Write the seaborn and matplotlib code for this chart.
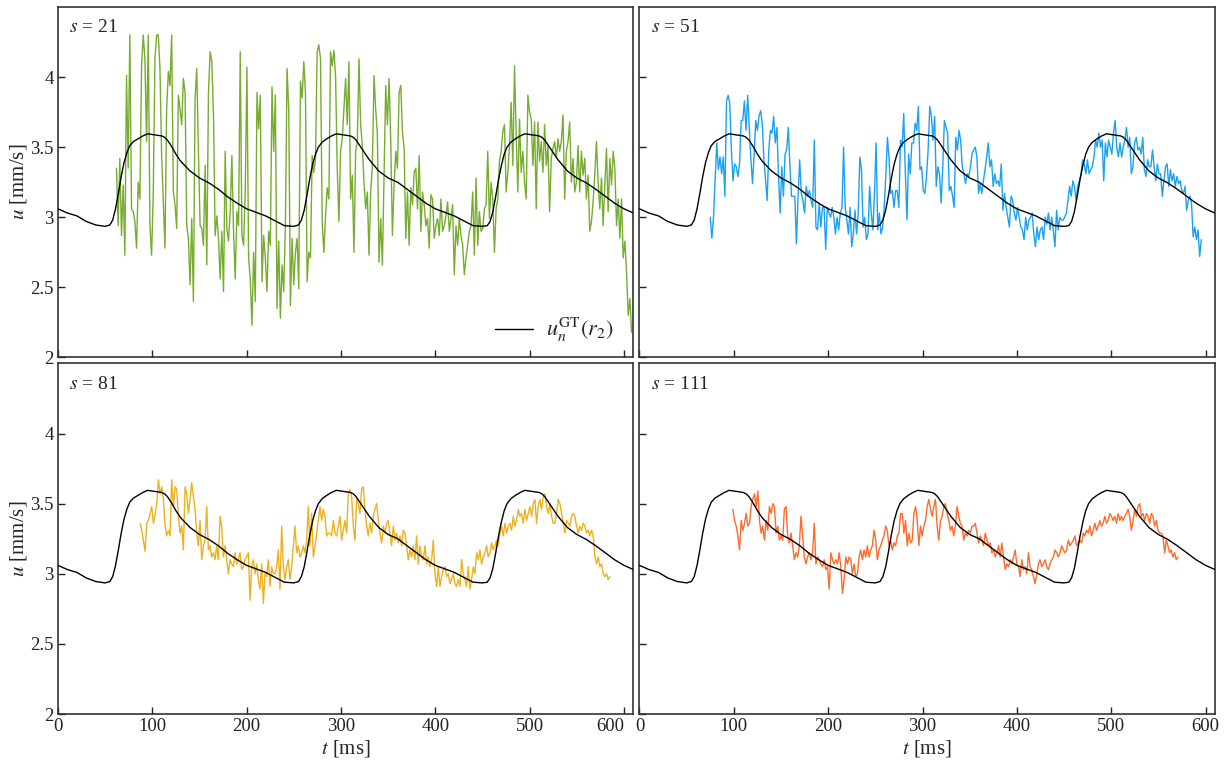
import numpy as np
import matplotlib
matplotlib.use("Agg")
import matplotlib.pyplot as plt
import seaborn as sns

# ground truth velocity u_n^GT(r_2)
gt_t = [0, 10, 20, 30, 40, 50, 55, 58, 61, 64, 67, 70, 73, 76, 80, 85, 90, 95, 100, 105, 110,
        113, 116, 120, 125, 130, 140, 150, 160, 170, 180, 190, 200, 210, 220, 230, 240, 250,
        255, 258, 261, 264, 267, 270, 273, 276, 280, 285, 290, 295, 300, 305, 310, 313, 316,
        320, 325, 330, 340, 350, 360, 370, 380, 390, 400, 410, 420, 430, 440, 450, 455, 458,
        461, 464, 467, 470, 473, 476, 480, 485, 490, 495, 500, 505, 510, 513, 516, 520, 525,
        530, 540, 550, 560, 570, 580, 590, 600, 610]
gt_u = [3.06, 3.03, 3.01, 2.97, 2.945, 2.935, 2.945, 2.98, 3.06, 3.17, 3.29, 3.39, 3.46, 3.51,
        3.54, 3.56, 3.58, 3.595, 3.59, 3.585, 3.58, 3.57, 3.55, 3.51, 3.45, 3.40, 3.33, 3.28,
        3.245, 3.20, 3.145, 3.10, 3.06, 3.035, 3.01, 2.975, 2.94, 2.935, 2.945, 2.98, 3.05,
        3.16, 3.28, 3.38, 3.45, 3.50, 3.535, 3.56, 3.58, 3.595, 3.59, 3.585, 3.58, 3.57, 3.55,
        3.51, 3.46, 3.41, 3.33, 3.28, 3.25, 3.20, 3.15, 3.10, 3.06, 3.035, 3.01, 2.975, 2.94,
        2.935, 2.94, 2.97, 3.04, 3.15, 3.27, 3.37, 3.45, 3.50, 3.535, 3.56, 3.58, 3.595, 3.59,
        3.585, 3.58, 3.57, 3.55, 3.51, 3.46, 3.41, 3.33, 3.28, 3.245, 3.20, 3.15, 3.10, 3.06,
        3.03]

# s = 21 (start / end time and samples)
u21_range = (62, 608)
u21 = [3.35, 2.94, 3.42, 2.87, 3.23, 2.73, 4.01, 3.35, 4.30, 3.06, 3.04, 2.97, 2.78, 3.25, 3.13,
       4.08, 4.30, 4.13, 3.54, 4.30, 2.94, 2.73, 3.18, 4.13, 4.30, 4.30, 4.06, 3.44, 3.11, 2.78,
       3.77, 4.04, 3.94, 4.30, 3.18, 3.09, 2.92, 3.87, 3.77, 3.66, 3.99, 3.89, 2.94, 2.85, 2.52,
       2.99, 2.40, 3.85, 4.06, 3.47, 2.94, 2.92, 2.80, 3.37, 2.66, 3.89, 4.18, 4.11, 3.73, 2.87,
       3.01, 2.85, 2.56, 2.90, 2.47, 3.47, 2.92, 2.83, 3.04, 3.44, 2.90, 2.56, 3.04, 2.94, 4.18,
       2.87,
       2.80, 3.18, 4.07, 2.71, 2.56, 2.23, 2.75, 2.40, 3.89, 3.63, 3.87, 2.54, 2.87, 2.71, 2.47,
       2.90, 2.80, 3.93, 3.47, 3.87, 2.35, 2.83, 2.28, 2.66, 2.47, 2.94, 4.06, 3.77, 2.37, 2.85,
       2.52, 2.75, 2.85, 2.49, 3.97, 3.85, 4.11, 3.89, 2.54, 2.75, 2.71, 3.44, 3.32, 3.42, 4.18,
       4.23, 4.13, 2.97, 2.75, 3.01, 3.21, 3.13, 4.18, 4.08, 4.19, 4.01, 3.35, 2.97, 3.47, 3.56,
       3.77, 3.99, 3.66, 4.11, 3.13, 3.30, 2.75, 3.47, 3.54, 4.13, 3.66, 3.51, 3.25, 3.06, 3.18,
       2.73, 3.18, 3.37,
       4.01, 3.77, 3.59, 2.68, 2.99, 2.66, 3.32, 3.94, 3.66, 3.99, 3.54, 2.87, 3.23, 3.47, 3.35,
       3.89, 3.94, 3.61, 3.49, 2.85, 3.18, 2.80, 3.21, 3.09, 3.32, 3.35, 3.06, 3.44, 2.90, 3.18,
       3.09, 2.94, 2.99, 2.78, 3.16, 3.13, 2.85, 2.94, 2.99, 2.87, 3.13, 2.90, 2.94, 3.01, 3.11,
       2.90, 2.99, 3.09, 2.59, 2.94, 2.80, 2.99, 2.87, 2.80, 2.59, 2.71, 2.80, 2.90, 2.94, 3.18,
       2.73, 3.28, 2.80, 3.04, 2.90, 2.92, 3.06, 3.09, 3.47, 2.99, 3.25, 3.13, 2.75, 3.06, 3.13,
       3.40, 3.47, 3.61,
       3.66, 3.18, 3.32, 3.51, 3.82, 3.37, 4.08, 3.59, 3.18, 3.70, 3.32, 3.47, 3.25, 3.13, 3.87,
       3.75, 3.70, 3.37, 3.68, 3.06, 3.68, 3.40, 3.54, 3.32, 3.66, 3.37, 3.51, 3.04, 3.42, 3.49,
       3.54, 3.42, 3.56, 3.47, 3.54, 3.73, 3.13, 3.47, 3.54, 3.68, 3.25, 3.42, 3.18, 3.25, 3.51,
       3.18, 3.47, 3.30, 3.42, 3.13, 3.30, 2.90, 2.97, 3.11, 3.30, 3.54, 3.25, 3.06, 3.28, 2.94,
       3.23, 3.49, 3.04, 3.42, 3.23, 3.47, 3.35, 2.94, 3.13, 2.85, 3.13, 2.71, 2.83, 2.61, 2.30,
       2.42, 2.18]

# s = 51
u51_range = (75, 595.5)
u51 = [3.00, 2.85, 3.00, 3.26, 3.53, 3.34, 3.43, 3.31, 3.43, 3.15, 3.83, 3.87, 3.81, 3.48, 3.26,
       3.38, 3.36, 3.29, 3.38, 3.69, 3.69, 3.83, 3.62, 3.87, 3.64, 3.41, 3.24, 3.45, 3.69, 3.62,
       3.72, 3.76, 3.67, 3.41, 3.26, 3.12, 3.48, 3.62, 3.60, 3.72, 3.53, 3.64, 3.29, 3.03, 3.36,
       3.15, 3.45, 3.48, 3.64, 3.36, 3.15, 3.15, 3.15, 2.81, 3.15, 3.41, 3.17, 3.12, 3.03, 3.22,
       3.15, 3.19, 3.12, 3.07, 3.55, 2.93, 2.91, 3.10, 2.93, 3.07, 3.07, 2.77, 3.07, 3.03, 3.00,
       3.07, 3.00, 2.88, 3.00, 2.91, 3.03, 3.07, 3.50, 3.07, 2.98, 2.88, 3.07, 2.79, 2.88, 3.05,
       2.88, 3.03, 3.43, 3.34, 2.93, 3.00, 2.84, 2.88, 3.22, 3.03, 2.91, 3.17, 3.53, 2.91, 3.03,
       2.88, 2.93, 3.07, 3.31, 3.57, 3.41, 3.17, 3.19, 3.07, 3.19, 3.19, 3.07, 3.55, 3.50, 3.74,
       3.31, 2.98, 3.45, 3.31, 3.53, 3.53, 3.67, 3.62, 3.79, 3.34, 3.36, 3.19, 3.17, 3.29, 3.48,
       3.79, 3.72,
       3.55, 3.72, 3.22, 3.36, 3.31, 3.10, 3.36, 3.69, 3.64, 3.60, 3.19, 3.22, 3.15, 3.07, 3.57,
       3.48, 3.62, 3.55, 3.36, 3.31, 3.24, 3.31, 3.29, 3.36, 3.45, 3.48, 3.50, 3.43, 3.17, 3.24,
       3.17, 3.26, 3.34, 3.43, 3.53, 3.36, 3.41, 3.22, 3.31, 3.24, 3.26, 3.22, 3.38, 3.05, 3.17,
       3.07, 3.00, 2.93, 3.15, 3.12, 3.03, 2.98, 3.07, 3.00, 2.93, 2.91, 2.84, 3.00, 2.91, 2.98,
       3.00, 3.03, 2.88, 2.79, 2.93, 2.84, 2.91, 2.93, 2.84, 3.00, 2.95, 3.03, 2.91, 3.00, 2.91,
       2.79, 3.05, 2.91, 3.00, 2.98, 2.98, 3.00, 3.03, 3.12, 3.22, 3.15, 3.26, 3.22, 3.12, 3.22,
       3.26, 3.31, 3.41, 3.38, 3.31, 3.41, 3.31, 3.34, 3.36, 3.43, 3.55, 3.50, 3.60, 3.50, 3.55,
       3.26, 3.53, 3.43, 3.55, 3.50, 3.45, 3.60, 3.69, 3.50, 3.43, 3.53, 3.43, 3.50, 3.55, 3.64,
       3.50, 3.57, 3.31, 3.36, 3.53, 3.57, 3.48, 3.50, 3.45, 3.57, 3.34, 3.29, 3.41, 3.36, 3.36,
       3.48, 3.36, 3.26, 3.38, 3.31, 3.31, 3.15, 3.26, 3.36, 3.38, 3.22, 3.34, 3.26, 3.31, 3.22,
       3.29, 3.24, 3.26, 3.19, 3.17, 3.22, 3.05, 3.12, 3.15, 3.10, 2.86, 2.93, 2.84, 2.91, 2.72,
       2.84]

# s = 81
u81_range = (87, 585)
u81 = [3.36, 3.31, 3.24, 3.16, 3.36, 3.38, 3.43, 3.48, 3.36, 3.42, 3.50, 3.67, 3.57, 3.62, 3.53,
       3.34, 3.27, 3.31, 3.27, 3.67, 3.48, 3.62, 3.60, 3.41, 3.29, 3.34, 3.17, 3.62, 3.57, 3.43,
       3.53, 3.65, 3.55, 3.46, 3.29, 3.20, 3.38, 3.10, 3.20, 3.24, 3.48, 3.17, 3.20, 3.12, 3.15,
       3.10, 3.20, 3.10, 3.41, 3.34, 3.12, 3.20, 3.10, 3.00, 3.10, 3.07, 3.05, 3.15, 3.07, 3.10,
       3.15, 3.03, 3.05, 3.10, 3.12, 3.15, 2.81, 3.05, 3.10, 3.00, 3.07, 2.96, 2.89, 3.07, 2.79,
       3.00, 2.98, 3.10, 2.91, 3.05, 3.00, 3.00, 3.05, 3.17, 2.89, 3.34, 3.05, 2.96, 3.05, 3.10,
       2.96, 3.05, 3.20, 3.34, 3.15, 3.20, 3.12, 3.15, 3.20, 3.15, 3.24, 3.48, 3.20, 3.43, 3.12,
       3.20, 3.29, 3.38, 3.48, 3.38, 3.46, 3.41, 3.27, 3.29, 3.29, 3.27,
       3.38, 3.29, 3.27, 3.34, 3.41, 3.24, 3.31, 3.38, 3.29, 3.57, 3.60, 3.55, 3.34, 3.24, 3.53,
       3.50, 3.43, 3.61, 3.62, 3.46, 3.34, 3.27, 3.36, 3.29, 3.41, 3.46, 3.50, 3.38, 3.29, 3.22,
       3.34, 3.29, 3.36, 3.38, 3.29, 3.20, 3.34, 3.24, 3.29, 3.22, 3.27, 3.20, 3.31, 3.29, 3.20,
       3.10, 3.17, 3.12, 3.20, 3.10, 3.27, 3.07, 3.20, 3.12, 3.10, 3.20, 3.07, 3.12, 3.05, 3.10,
       3.24, 3.00, 2.91, 3.05, 2.91, 2.98, 3.03, 3.05, 2.98, 3.00, 2.93, 2.96, 3.00, 2.93, 2.91,
       2.96, 2.91, 3.10, 3.00, 2.96, 2.91, 3.05, 2.89, 2.96, 3.05, 3.00, 3.15, 3.10, 3.17, 3.07,
       3.12, 3.15, 3.20, 3.12, 3.15, 3.22, 3.17, 3.20, 3.24, 3.20, 3.29, 3.34, 3.27, 3.36, 3.29,
       3.34, 3.36, 3.31, 3.41, 3.34, 3.38, 3.46, 3.41, 3.43, 3.36, 3.46, 3.38, 3.43, 3.48, 3.41,
       3.50, 3.53, 3.36, 3.48, 3.53, 3.46, 3.55, 3.57, 3.48, 3.43, 3.50, 3.41, 3.36, 3.36, 3.43,
       3.53, 3.50, 3.43, 3.36, 3.29, 3.38, 3.36, 3.34, 3.41, 3.43, 3.41, 3.34, 3.29, 3.34, 3.31,
       3.36, 3.34, 3.29, 3.31, 3.27, 3.31, 3.27, 3.12, 3.07, 3.12, 3.05, 3.07, 3.00, 2.98, 3.00,
       2.96, 2.98]

# s = 111
u111_range = (99, 570.7)
u111 = [3.46, 3.38, 3.34, 3.27, 3.17, 3.38, 3.31, 3.36, 3.43, 3.34, 3.36, 3.48, 3.53, 3.57, 3.48,
        3.59, 3.38, 3.29, 3.34, 3.24, 3.38, 3.31, 3.48, 3.43, 3.50, 3.48, 3.29, 3.34, 3.24, 3.27,
        3.24, 3.46, 3.48, 3.27, 3.22, 3.29, 3.20, 3.10, 3.15, 3.12, 3.20, 3.41, 3.27, 3.12, 3.07,
        3.12, 3.15, 3.10, 3.15, 3.36, 3.07, 3.12, 3.10, 3.07, 3.05, 3.10, 3.03, 3.05, 2.89, 3.15,
        3.10, 3.07, 3.10, 3.07, 3.15, 3.05, 2.86, 2.96, 3.12, 3.07, 3.12, 3.10, 3.00, 3.07, 2.98,
        3.00, 3.12, 3.17, 3.10, 3.17, 3.12, 3.20, 3.12, 3.17, 3.20, 3.31, 3.24, 3.10, 3.17, 3.20,
        3.24, 3.27, 3.34, 3.31, 3.20, 3.24, 3.17, 3.22, 3.20, 3.27, 3.29, 3.43, 3.43, 3.29, 3.38,
        3.20, 3.29, 3.22, 3.24, 3.43, 3.48, 3.38, 3.20, 3.34, 3.27, 3.34, 3.38, 3.48, 3.53, 3.46,
        3.41, 3.48, 3.53, 3.34, 3.24, 3.38, 3.41, 3.48, 3.50, 3.43, 3.38, 3.31, 3.34, 3.27, 3.34,
        3.48, 3.41, 3.36, 3.34, 3.24, 3.29, 3.27, 3.31, 3.29, 3.34, 3.34, 3.36, 3.29, 3.22, 3.27,
        3.24, 3.20, 3.29, 3.24, 3.20, 3.22, 3.15, 3.17, 3.12, 3.15, 3.20, 3.12, 3.22, 3.12, 3.03,
        3.07, 3.05, 3.10, 3.07, 3.12, 3.17, 3.07, 3.05, 2.98, 3.10, 3.03, 3.05, 3.00, 3.15, 3.05,
        3.03, 2.98, 2.93, 3.00, 3.07, 3.10, 3.05, 3.07, 3.10, 3.05, 3.03, 3.07, 3.10, 3.12, 3.17,
        3.15, 3.12, 3.15, 3.20, 3.17, 3.15, 3.17, 3.24, 3.20, 3.22, 3.24, 3.27, 3.20, 3.22, 3.24,
        3.22, 3.29, 3.27, 3.31, 3.29, 3.34, 3.27, 3.31, 3.36, 3.31, 3.34, 3.38, 3.34, 3.36, 3.41,
        3.36, 3.38, 3.43, 3.41, 3.38, 3.41, 3.36, 3.43, 3.38, 3.41, 3.38, 3.41, 3.43, 3.46, 3.41,
        3.31, 3.38, 3.46, 3.41, 3.48, 3.50, 3.41, 3.43, 3.38, 3.43, 3.41, 3.36, 3.43, 3.41, 3.34,
        3.38, 3.31, 3.29, 3.29, 3.27, 3.15, 3.24, 3.20, 3.15, 3.17, 3.12, 3.15, 3.10, 3.12]

panels = [("21", u21_range, u21, "#77AC30"),
          ("51", u51_range, u51, "#1BA1F2"),
          ("81", u81_range, u81, "#EDB120"),
          ("111", u111_range, u111, "#FF6B2B")]

x_ticks = [0, 100, 200, 300, 400, 500, 600]
y_ticks = [2, 2.5, 3, 3.5, 4]
y_labels = ["2", "2.5", "3", "3.5", "4"]

sns.set_theme(style="ticks")
sns.set_style("ticks", {"xtick.direction": "in", "ytick.direction": "in"})
plt.rcParams["font.family"] = ["Liberation Serif", "DejaVu Serif"]
plt.rcParams["mathtext.fontset"] = "stix"

fig, axes = plt.subplots(2, 2, figsize=(12.26, 7.68), dpi=100)
fig.subplots_adjust(left=0.0473, right=0.991, top=0.991, bottom=0.0703,
                    wspace=0.0105, hspace=0.017)

for k, (s, (t0, t1), u, col) in enumerate(panels):
    ax = axes.flat[k]
    t = np.linspace(t0, t1, len(u))
    sns.lineplot(x=t, y=u, ax=ax, color=col, lw=1.0, estimator=None, sort=False, zorder=2)
    sns.lineplot(x=gt_t, y=gt_u, ax=ax, color="black", lw=1.0, estimator=None,
                 sort=False, zorder=3, label=r"$u_n^{\mathrm{GT}}(r_2)$")
    ax.set_xlim(0, 610)
    ax.set_ylim(2, 4.5)
    ax.set_xticks(x_ticks)
    ax.set_yticks(y_ticks)
    ax.tick_params(direction="in", length=5, width=1.0, labelsize=13.5, colors="#222222",
                   top=False, right=False, pad=3)
    for sp in ax.spines.values():
        sp.set_color("#333333")
        sp.set_linewidth(1.2)
    ax.text(0.02, 0.94, r"$s$ = " + s, transform=ax.transAxes, fontsize=14, va="center")
    if k % 2 == 0:
        ax.set_yticklabels(y_labels)
        ax.set_ylabel(r"$u$ [mm/s]", fontsize=15, labelpad=1)
    else:
        ax.set_yticklabels([])
        ax.set_ylabel("")
    if k >= 2:
        ax.set_xlabel(r"$t$ [ms]", fontsize=15, labelpad=2)
        if k == 2:
            # keep the last label of the left panel clear of the right panel's "0"
            ax.get_xticklabels()[-1].set_horizontalalignment("right")
            ax.get_xticklabels()[-1].set_x(600)
    else:
        ax.set_xticklabels([])
        ax.set_xlabel("")
    if k == 0:
        ax.legend(loc="lower right", bbox_to_anchor=(1.0, -0.02), frameon=False,
                  fontsize=16, handlelength=1.7, handletextpad=0.6)
    else:
        ax.get_legend().remove()

fig.savefig("out.png", dpi=100)
